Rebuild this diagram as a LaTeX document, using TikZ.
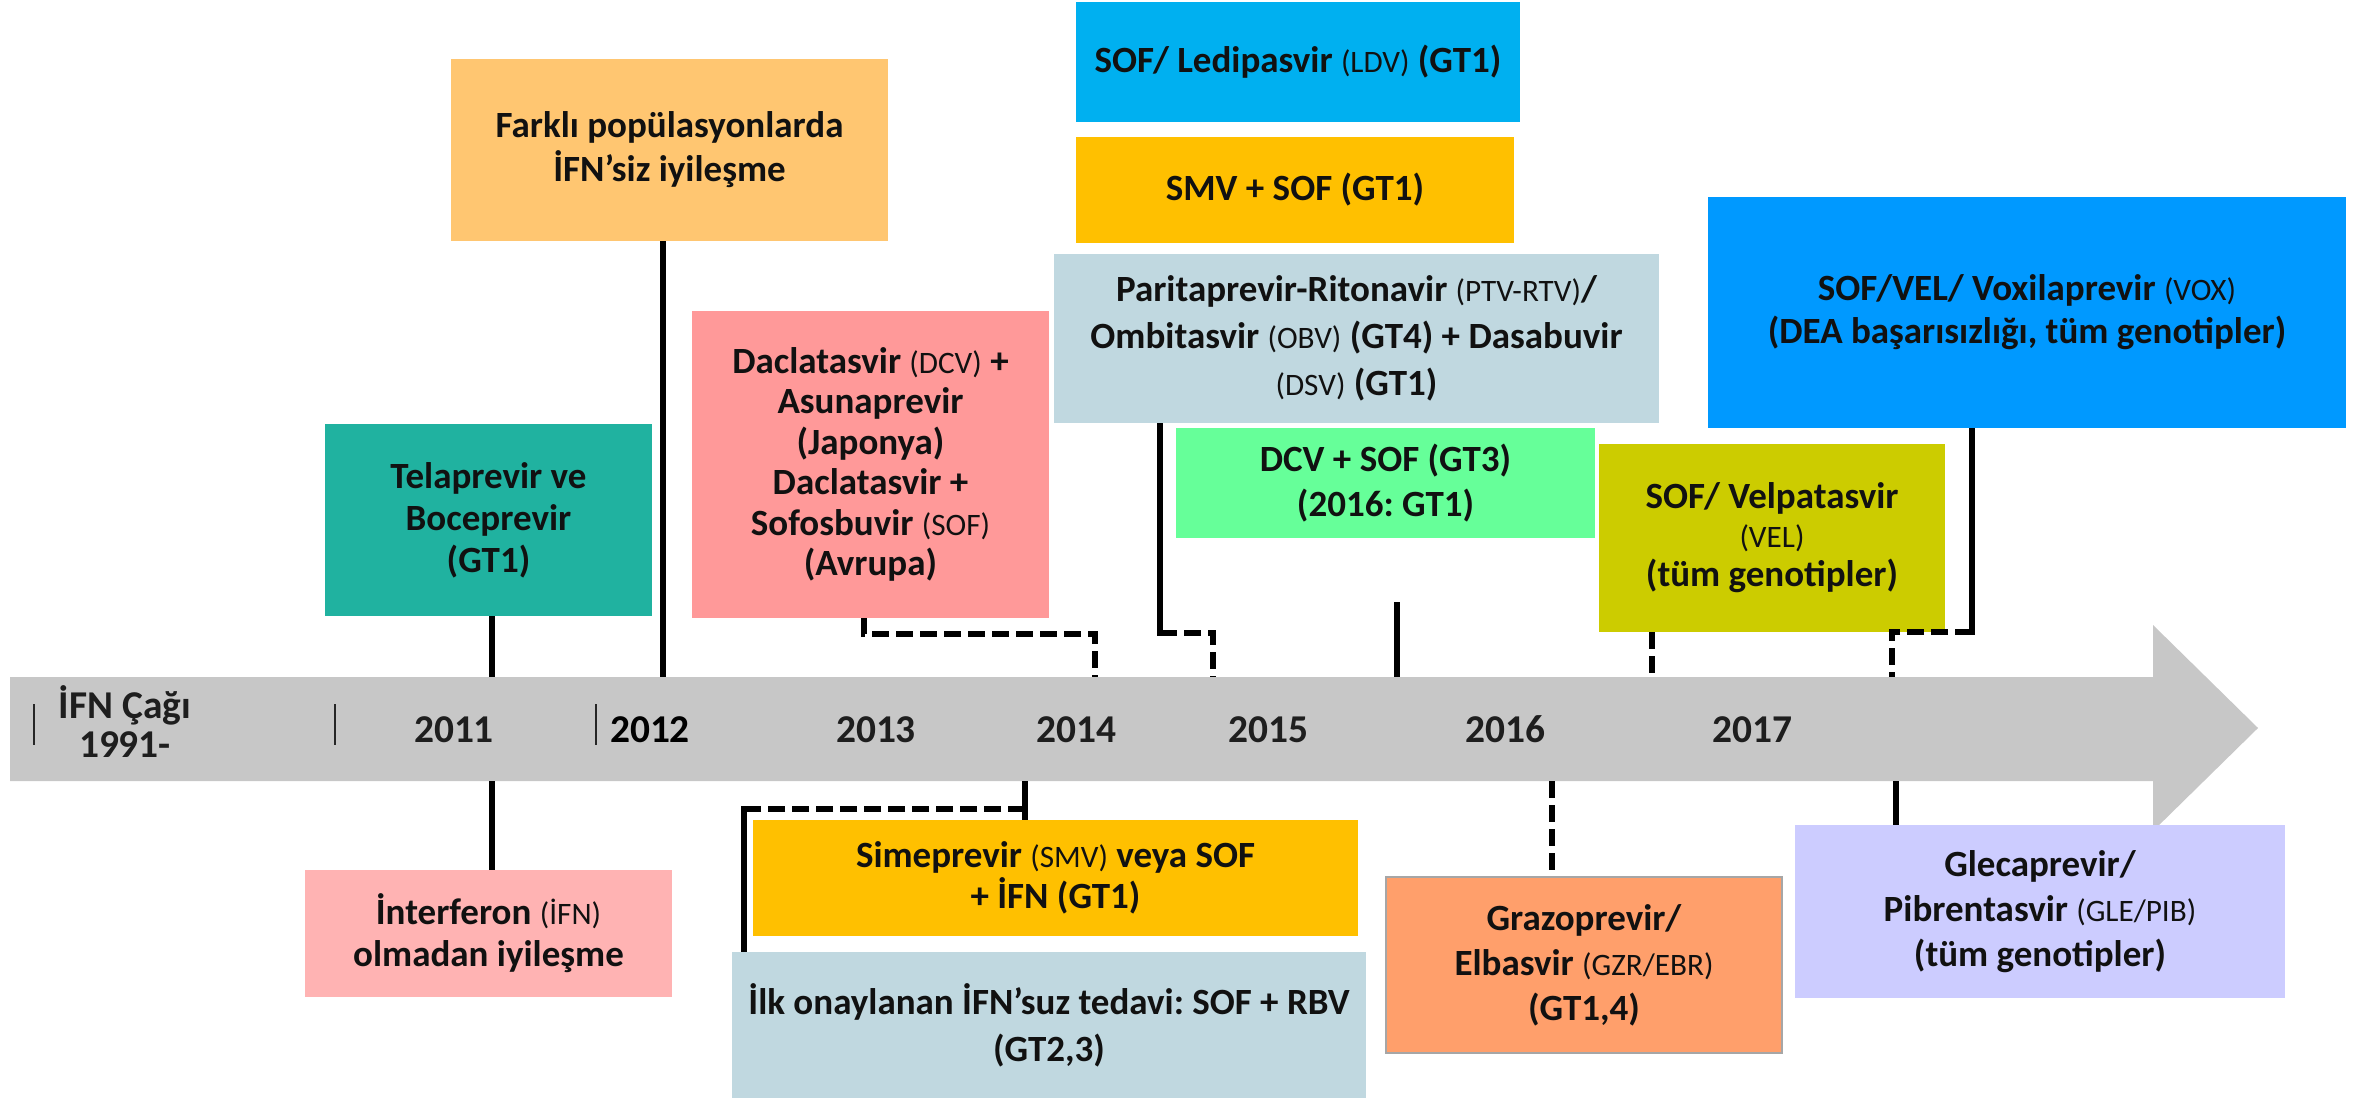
\documentclass[tikz,border=0pt]{standalone}
\usepackage{fontspec}
\setmainfont{Carlito}
\frenchspacing
\definecolor{cFarkli}{HTML}{FFC671}
\definecolor{cTela}{HTML}{20B2A0}
\definecolor{cDacla}{HTML}{FF9999}
\definecolor{cLdv}{HTML}{00B0F0}
\definecolor{cGold}{HTML}{FFC000}
\definecolor{cPale}{HTML}{C0D8E0}
\definecolor{cGreen}{HTML}{66FF99}
\definecolor{cVel}{HTML}{CCCC00}
\definecolor{cVox}{HTML}{0099FF}
\definecolor{cInterf}{HTML}{FFB3B3}
\definecolor{cGrazo}{HTML}{FF9F6B}
\definecolor{cGleca}{HTML}{CCCCFF}
\definecolor{cArrow}{HTML}{C7C7C7}
\definecolor{cBorder}{HTML}{A6A6A6}
\definecolor{txt}{HTML}{111111}
\definecolor{yrC}{HTML}{1E1E1E}
\newcommand\sm[1]{{\mdseries\fontsize{15.6}{15.6}\selectfont #1}}
\newcommand\tlbox[8]{\node[tbox,#6,minimum width={(#4-#2)*0.5pt},minimum height={(#5-#3)*0.5pt},font=\bfseries\fontsize{18.5}{#7}\selectfont] (#1) at ({(#2+#4)/2},{(#3+#5)/2}) {#8};}
\tikzset{
  tbox/.style={rectangle, inner sep=0pt, align=center, text=txt},
  conn/.style={line width=3pt, draw=black},
  dconn/.style={conn, dash pattern=on 8.5pt off 3.5pt},
  yr/.style={font=\bfseries\fontsize{19.7}{19.5}\selectfont, text=yrC, inner sep=0pt},
  tickmark/.style={line width=0.8pt, draw=black!85}
}
\begin{document}
\begin{tikzpicture}[x=0.5pt,y=-0.5pt]
\useasboundingbox (0,0) rectangle (2377,1098);
% timeline arrow
\fill[cArrow] (10,677) -- (2153,677) -- (2153,625) -- (2258,728) -- (2153,831) -- (2153,781) -- (10,781) -- cycle;
\draw[tickmark] (34,704) -- (34,745);
\draw[tickmark] (335,704) -- (335,745);
\draw[tickmark] (596,704) -- (596,745);
% years
\node[yr, align=center] (y91) at (125,722) {İFN Çağı\\1991-};
\node[yr, anchor=base] (y11) at (454,742) {2011};
\node[yr, anchor=base, text=black] (y12) at (650,742) {2012};
\node[yr, anchor=base] (y13) at (876,742) {2013};
\node[yr, anchor=base] (y14) at (1076,742) {2014};
\node[yr, anchor=base] (y15) at (1268,742) {2015};
\node[yr, anchor=base] (y16) at (1505,742) {2016};
\node[yr, anchor=base] (y17) at (1752,742) {2017};
% boxes above
\tlbox{farkli}{451}{59}{888}{241}{fill=cFarkli}{22}{Farklı popülasyonlarda\\İFN’siz iyileşme}
\tlbox{tela}{325}{424}{652}{616}{fill=cTela}{21}{Telaprevir ve\\Boceprevir\\(GT1)}
\tlbox{dacla}{692}{311}{1049}{618}{fill=cDacla}{20.2}{Daclatasvir \sm{(DCV)} +\\Asunaprevir\\(Japonya)\\Daclatasvir +\\Sofosbuvir \sm{(SOF)}\\(Avrupa)}
\tlbox{ldv}{1076}{2}{1520}{122}{fill=cLdv}{22}{SOF/ Ledipasvir \sm{(LDV)} (GT1)}
\tlbox{smvsof}{1076}{137}{1514}{243}{fill=cGold}{22}{SMV + SOF (GT1)}
\tlbox{pari}{1054}{254}{1659}{423}{fill=cPale}{23.5}{Paritaprevir-Ritonavir \sm{(PTV-RTV)}/\\Ombitasvir \sm{(OBV)} (GT4) + Dasabuvir\\\sm{(DSV)} (GT1)}
\tlbox{dcvsof}{1176}{428}{1595}{538}{fill=cGreen}{22.5}{DCV + SOF (GT3)\\(2016: GT1)}
\tlbox{vel}{1599}{444}{1945}{632}{fill=cVel}{19.5}{SOF/ Velpatasvir\\\sm{(VEL)}\\(tüm genotipler)}
\tlbox{vox}{1708}{197}{2346}{428}{fill=cVox}{21.5}{SOF/VEL/ Voxilaprevir \sm{(VOX)}\\(DEA başarısızlığı, tüm genotipler)}
% boxes below
\tlbox{interf}{305}{870}{672}{997}{fill=cInterf}{21}{İnterferon \sm{(İFN)}\\olmadan iyileşme}
\tlbox{sime}{753}{820}{1358}{936}{fill=cGold}{20.5}{Simeprevir \sm{(SMV)} veya SOF\\+ İFN (GT1)}
\tlbox{ilk}{732}{952}{1366}{1098}{fill=cPale}{23.5}{İlk onaylanan İFN’suz tedavi: SOF + RBV\\(GT2,3)}
\tlbox{grazo}{1386}{877}{1782}{1053}{fill=cGrazo, draw=cBorder, line width=0.75pt}{22.5}{Grazoprevir/\\Elbasvir \sm{(GZR/EBR)}\\(GT1,4)}
\tlbox{gleca}{1795}{825}{2285}{998}{fill=cGleca}{22.5}{Glecaprevir/\\Pibrentasvir \sm{(GLE/PIB)}\\(tüm genotipler)}
% axis coordinates
\coordinate (a11) at (492,677);
\coordinate (b11) at (492,781);
\coordinate (a12) at (663,677);
\coordinate (d1) at (864,634);
\coordinate (a14) at (1095,677);
\coordinate (p1) at (1160,633);
\coordinate (a15) at (1213,677);
\coordinate (f1) at (1397,602);
\coordinate (a16) at (1397,677);
\coordinate (a17) at (1652,677);
\coordinate (v1) at (1972,632);
\coordinate (a18) at (1892,677);
\coordinate (b14) at (1025,781);
\coordinate (s1) at (1025,809);
\coordinate (s2) at (744,809);
\coordinate (b16) at (1552,781);
\coordinate (b17) at (1896,781);
% connectors above the axis
\draw[conn] (tela.south -| a11) -- (a11);
\draw[conn] (farkli.south -| a12) -- (a12);
\draw[dconn] (dacla.south -| d1) -- (d1) -| (a14);
\draw[conn] (pari.south -| p1) -- ([yshift=-1.5pt]p1);
\draw[dconn] (p1) -| (a15);
\draw[conn] (f1) -- (a16);
\draw[dconn] (vel.south -| a17) -- (a17);
\draw[conn] (vox.south -| v1) -- ([yshift=-1.5pt]v1);
\draw[dconn] (v1) -| (a18);
% connectors below the axis
\draw[conn] (b11) -- (b11 |- interf.north);
\draw[conn] (b14) -- (b14 |- sime.north);
\draw[dconn] (s1) -- (s2);
\draw[conn] ([yshift=1.5pt]s2) -- (s2 |- ilk.north);
\draw[dconn] (b16) -- (b16 |- grazo.north);
\draw[conn] (b17) -- (b17 |- gleca.north);
\end{tikzpicture}
\end{document}
